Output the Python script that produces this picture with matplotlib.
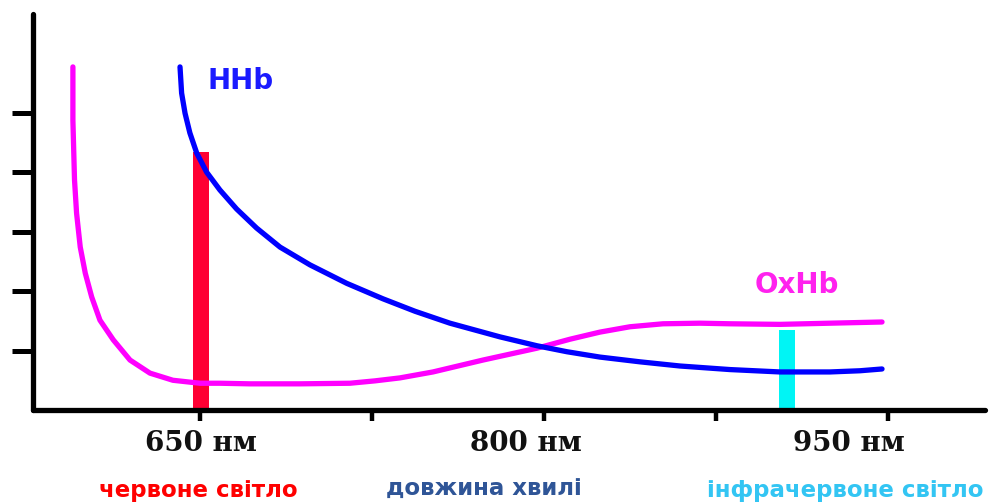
import matplotlib.pyplot as plt
import numpy as np

# wavelength (nm) and relative absorption
hhb_nm = [641.3, 642.0, 643.5, 645.6, 648.6, 652.9, 658.7, 666.0, 674.7,
          684.9, 698.0, 714.0, 729.8, 743.8, 759.0, 780.8, 797.0, 810.0,
          824.4, 841.9, 859.3, 881.1, 902.9, 924.7, 937.8, 947.4]
hhb_abs = [5.77, 5.33, 4.99, 4.66, 4.32, 4.00, 3.70, 3.38, 3.06,
           2.74, 2.44, 2.13, 1.87, 1.66, 1.46, 1.23, 1.08, 0.98,
           0.89, 0.81, 0.74, 0.68, 0.64, 0.64, 0.66, 0.69]

oxhb_nm = [594.6, 594.6, 595.3, 596.2, 597.8, 600.0, 602.8, 606.4, 612.2,
           619.5, 628.2, 638.2, 650.0, 658.7, 671.8, 693.6, 715.4, 726.3,
           737.2, 751.6, 773.4, 797.0, 811.3, 824.4, 837.5, 851.9, 868.0,
           881.1, 902.9, 924.7, 947.4]
oxhb_abs = [5.77, 4.87, 3.87, 3.31, 2.74, 2.30, 1.90, 1.51, 1.18,
            0.84, 0.62, 0.50, 0.45, 0.45, 0.44, 0.44, 0.45, 0.49,
            0.54, 0.64, 0.84, 1.04, 1.19, 1.31, 1.40, 1.45, 1.46,
            1.45, 1.44, 1.46, 1.48]

# light sources: red (HHb level) and infrared (OxHb level)
src_nm = [650.4, 906.0]
src_h = [4.34, 1.34]
src_col = ['#ff0033', '#00f5f5']

xticks = [650, 725, 800, 875, 950]
yticks = [1, 2, 3, 4, 5]

fig = plt.figure(figsize=(9.92, 5.04), dpi=100)
ax = fig.add_axes([33/992, 94/504, 952/992, 396/504])

ax.bar(src_nm, src_h, width=7, color=src_col, zorder=2)
ax.plot(oxhb_nm, oxhb_abs, color='#ff00ff', lw=3.8, solid_capstyle='round',
        solid_joinstyle='round', zorder=3)
ax.plot(hhb_nm, hhb_abs, color='#0000ff', lw=3.8, solid_capstyle='round',
        solid_joinstyle='round', zorder=4)

ax.set_xlim(577.2, 992.3)
ax.set_ylim(0, 6.66)
for s in ['top', 'right']:
    ax.spines[s].set_visible(False)
for s in ['left', 'bottom']:
    ax.spines[s].set_linewidth(3.8)
    ax.spines[s].set_capstyle('round')

ax.set_yticks(yticks)
ax.set_yticklabels([])
ax.tick_params(axis='y', direction='out', length=15, width=3.6)
ax.set_xticks(xticks)
ax.set_xticklabels([])
ax.tick_params(axis='x', direction='out', length=8, width=3.2)

# wavelength labels (sit a bit left of their ticks in the original)
tr = ax.get_xaxis_transform()
for xpos, lab in [(650.4, '650 нм'), (792.2, '800 нм'), (933.0, '950 нм')]:
    ax.text(xpos, -0.085, lab, transform=tr, ha='center', va='center',
            family='DejaVu Serif', fontweight='bold', fontsize=20, color='#111111')

ax.text(208/992, 1 - 81/504, 'HHb', transform=fig.transFigure, ha='left', va='center',
        fontsize=20, fontweight='bold', color='#1a1aff')
ax.text(755/992, 1 - 285/504, 'OxHb', transform=fig.transFigure, ha='left', va='center',
        fontsize=20, fontweight='bold', color='#ff22ee')

fig.text(198/992, 1 - 490/504, 'червоне світло', ha='center', va='center',
         fontsize=16.5, fontweight='bold', color='#ff0000')
fig.text(484/992, 1 - 489/504, 'довжина хвилі', ha='center', va='center',
         fontsize=16.5, fontweight='bold', color='#2f5597')
fig.text(845/992, 1 - 490/504, 'інфрачервоне світло', ha='center', va='center',
         fontsize=16.5, fontweight='bold', color='#33c5f3')

fig.savefig('out.png', dpi=100)
